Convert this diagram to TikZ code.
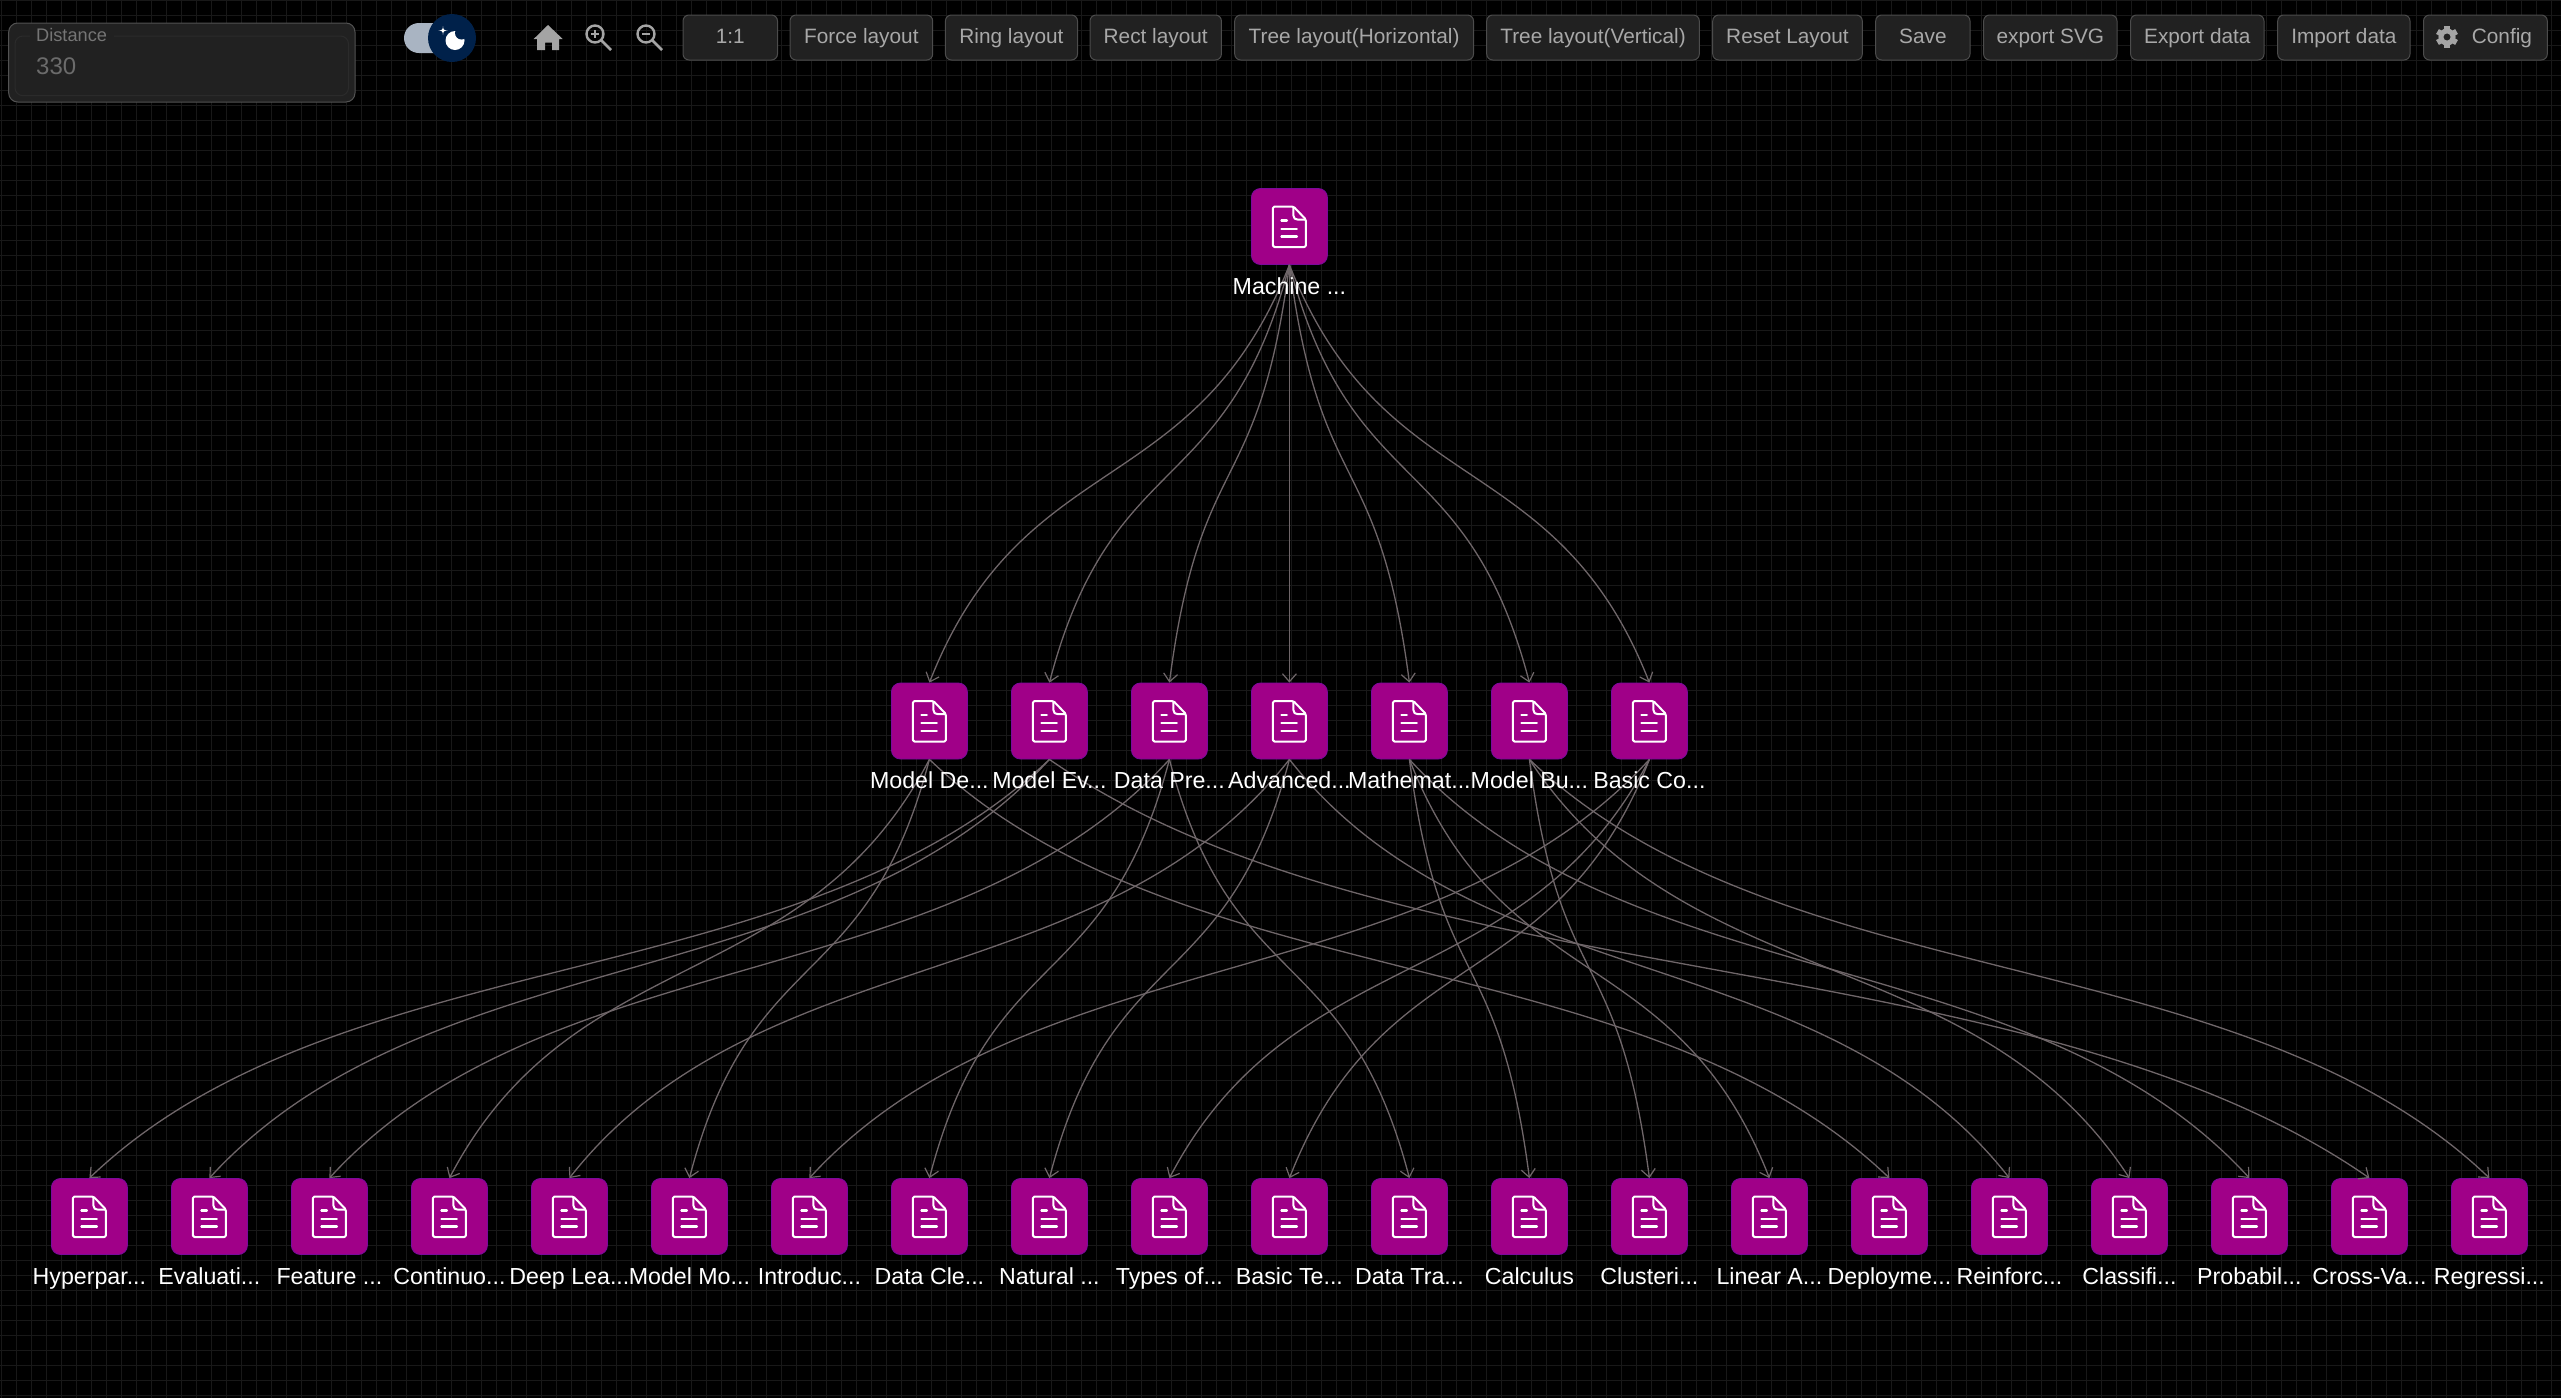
\documentclass[tikz,border=0pt]{standalone}
\usepackage{fontspec}
\setmainfont{Liberation Sans}
\usetikzlibrary{calc,arrows.meta}
\definecolor{gridc}{HTML}{181818}
\definecolor{edgec}{HTML}{6F6669}
\definecolor{nodec}{HTML}{A00088}
\definecolor{nodeb}{HTML}{7A0A9C}
\definecolor{btnf}{HTML}{212121}
\definecolor{btnb}{HTML}{4C4C4C}
\definecolor{btnt}{HTML}{A8A8A8}
\definecolor{iconc}{HTML}{A4A4A4}
\definecolor{navy}{HTML}{00214A}
\newcommand{\dd}{...}
\tikzset{
  x=1pt,y=-1pt,
  gridline/.style={draw=gridc,line width=1pt},
  gnode/.style={draw=nodeb,line width=0.8pt,fill=nodec,rounded corners=9pt,minimum width=76pt,minimum height=76pt,inner sep=0pt},
  glabel/.style={text=white,anchor=base,inner sep=0pt,font=\fontsize{23.2}{26}\selectfont},
  gedge/.style={draw=edgec,line width=1.3pt,-{Straight Barb[length=8pt,width=14pt,line width=1.2pt]}},
  btn/.style={draw=btnb,line width=1pt,fill=btnf,rounded corners=6pt,minimum height=45pt,inner sep=0pt,text=btnt,text height=15.6pt,text depth=4pt,font=\fontsize{20.8}{24}\selectfont},
  docicon/.pic={
    \draw[white,line width=2pt,line join=round,rounded corners=1.5pt] (-16.5,-20) -- (4,-20) -- (16.5,-7) -- (16.5,20.5) -- (-16.5,20.5) -- cycle;
    \draw[white,line width=2pt,line join=round] (4,-20) -- (4,-11) .. controls (4,-8) and (6,-7) .. (8,-7) -- (16.5,-7);
    \draw[white,line width=2.2pt,line cap=round] (-8,-6) -- (-2.5,-6) (-8,2.3) -- (7.5,2.3) (-8,10) -- (7.5,10);
  }
}
\newcommand{\gn}[3]{%
  \node[gnode] (#1) at (#2,#3) {};
  \pic at (#2,#3) {docicon};
}
\newcommand{\gl}[4]{\node[glabel] (#1) at (#2,#3+67.5) {#4};}
\newcommand{\conn}[2]{%
  \draw[gedge] let \p1=(#1.south), \p2=(#2.north) in
    (\p1) .. controls ({\x1+0.26*(\x2-\x1)},{\y1+0.57*(\y2-\y1)}) and ({\x2-0.26*(\x2-\x1)},{\y2-0.57*(\y2-\y1)}) .. (#2.north);}
\begin{document}
\begin{tikzpicture}
\useasboundingbox (0,0) rectangle (2561,1398);
\fill[black] (0,0) rectangle (2561,1398);
\foreach \k in {0,...,170} \draw[gridline] (1+15*\k,0) -- (1+15*\k,1398);
\foreach \k in {0,...,93} \draw[gridline] (0,15*\k) -- (2561,15*\k);
% nodes
\gn{root}{1289.4}{226.5}
\gn{ma}{929.4}{721}
\gn{mb}{1049.4}{721}
\gn{mc}{1169.4}{721}
\gn{md}{1289.4}{721}
\gn{me}{1409.4}{721}
\gn{mf}{1529.4}{721}
\gn{mg}{1649.4}{721}
\foreach \i [evaluate=\i as \cx using {89.4+120*(\i-1)}] in {1,...,21}{
  \node[gnode] (b\i) at (\cx,1216.5) {};
  \pic at (\cx,1216.5) {docicon};
}
% connectors
\conn{root}{ma}\conn{root}{mb}\conn{root}{mc}\conn{root}{md}\conn{root}{me}\conn{root}{mf}\conn{root}{mg}
\conn{ma}{b4}\conn{ma}{b6}\conn{ma}{b16}
\conn{mb}{b1}\conn{mb}{b2}\conn{mb}{b20}
\conn{mc}{b3}\conn{mc}{b8}\conn{mc}{b12}
\conn{md}{b5}\conn{md}{b9}\conn{md}{b17}
\conn{me}{b13}\conn{me}{b15}\conn{me}{b19}
\conn{mf}{b14}\conn{mf}{b18}\conn{mf}{b21}
\conn{mg}{b7}\conn{mg}{b10}\conn{mg}{b11}
% labels
\gl{lroot}{1289.4}{226.5}{Machine ...}
\gl{la}{929.4}{721}{Model De...}
\gl{lb}{1049.4}{721}{Model Ev...}
\gl{lc}{1169.4}{721}{Data Pre...}
\gl{ld}{1289.4}{721}{Advanced...}
\gl{le}{1409.4}{721}{Mathemat...}
\gl{lf}{1529.4}{721}{Model Bu...}
\gl{lg}{1649.4}{721}{Basic Co...}
\foreach \i/\t [evaluate=\i as \cx using {89.4+120*(\i-1)}] in {
 1/Hyperpar\dd,2/Evaluati\dd,3/Feature \dd,4/Continuo\dd,5/Deep Lea\dd,6/Model Mo\dd,7/Introduc\dd,
 8/Data Cle\dd,9/Natural \dd,10/Types of\dd,11/Basic Te\dd,12/Data Tra\dd,13/Calculus,14/Clusteri\dd,
 15/Linear A\dd,16/Deployme\dd,17/Reinforc\dd,18/Classifi\dd,19/Probabil\dd,20/Cross-Va\dd,21/Regressi\dd}{
  \node[glabel] (lb\i) at (\cx,1284) {\t};
}
% distance field
\draw[draw=white!32!black,line width=1pt,fill=btnf,rounded corners=9pt] (8.7,23) rectangle (355,102);
\draw[draw=white!17!black,line width=1pt,rounded corners=8pt] (15,36) rectangle (348.5,95.7);
\node[fill=btnf,inner sep=0pt,minimum width=84pt,minimum height=8pt] (legendgap) at (71.5,36) {};
\node[text=white!46!black,anchor=base west,inner sep=0pt,font=\fontsize{18.2}{20}\selectfont] (legend) at (36,41) {Distance};
\node[text=white!42!black,anchor=base west,inner sep=0pt,font=\fontsize{24}{28}\selectfont] (value) at (36,74.5) {330};
% theme toggle
\fill[fill={rgb,255:red,169;green,180;blue,194}] (440,23) -- (419,23) arc[start angle=-90,end angle=-270,radius=15] -- (440,53) -- cycle;
\fill[navy] (452,38) circle[radius=24];
\fill[white] (455,40.5) circle[radius=9.5];
\fill[navy] (461.5,33) circle[radius=6.5];
\fill[white] (443,26) .. controls (443.3,29.7) and (443.8,30.2) .. (447.5,30.5) .. controls (443.8,30.8) and (443.3,31.3) .. (443,35) .. controls (442.7,31.3) and (442.2,30.8) .. (438.5,30.5) .. controls (442.2,30.2) and (442.7,29.7) .. (443,26) -- cycle;
% home
\fill[iconc,even odd rule] (548,25) -- (562.7,39) -- (559,39) -- (559,50) -- (552,50) -- (552,42.7) -- (545,42.7) -- (545,50) -- (537,50) -- (537,39) -- (533.7,39) -- cycle;
% zoom in / out
\draw[iconc,line width=2.4pt] (595,34) circle[radius=8.5];
\draw[iconc,line width=2.8pt] (601.2,40.2) -- (611,50);
\draw[iconc,line width=1.8pt] (591,34) -- (599,34) (595,30) -- (595,38);
\draw[iconc,line width=2.4pt] (646,34) circle[radius=8.5];
\draw[iconc,line width=2.8pt] (652.2,40.2) -- (662,50);
\draw[iconc,line width=1.8pt] (642,34) -- (650,34);
% buttons
\node[btn,minimum width=94.5pt] (bone) at (730.25,37.5) {1:1};
\node[btn,minimum width=142.7pt] (bforce) at (861.35,37.5) {Force layout};
\node[btn,minimum width=132.1pt] (bring) at (1011.45,37.5) {Ring layout};
\node[btn,minimum width=131.4pt] (brect) at (1155.7,37.5) {Rect layout};
\node[btn,minimum width=238.8pt] (btreeh) at (1354.1,37.5) {Tree layout(Horizontal)};
\node[btn,minimum width=212.6pt] (btreev) at (1593,37.5) {Tree layout(Vertical)};
\node[btn,minimum width=149.6pt] (breset) at (1787.5,37.5) {Reset Layout};
\node[btn,minimum width=94.3pt] (bsave) at (1922.85,37.5) {Save};
\node[btn,minimum width=133.4pt] (bsvg) at (2050.3,37.5) {export SVG};
\node[btn,minimum width=133.4pt] (bexp) at (2197.3,37.5) {Export data};
\node[btn,minimum width=132.3pt] (bimp) at (2343.85,37.5) {Import data};
\node[btn,minimum width=123.8pt] (bcfg) at (2485.4,37.5) {\hspace*{33pt}Config};
% gear
\begin{scope}[shift={(2447,37)}]
\foreach \a in {0,60,...,300}{
  \fill[iconc,rotate=\a] (-2.8,-11) rectangle (2.8,-6);
}
\fill[iconc,even odd rule] (0,0) circle[radius=8.6] (0,0) circle[radius=3.6];
\end{scope}
\end{tikzpicture}
\end{document}
